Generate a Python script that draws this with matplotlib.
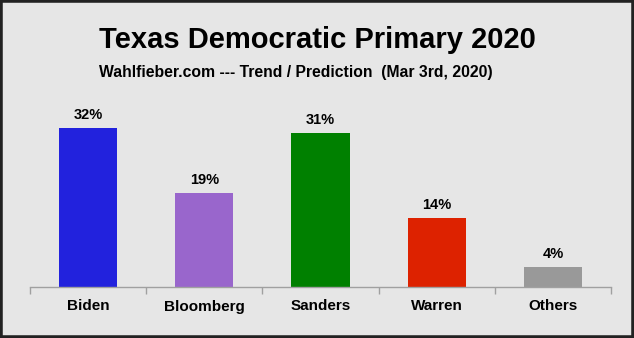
import matplotlib
matplotlib.use("Agg")
import matplotlib.pyplot as plt
from matplotlib.patches import Rectangle

candidates = ["Biden", "Bloomberg", "Sanders", "Warren", "Others"]
shares = [32, 19, 31, 14, 4]
bar_colors = ["#2222dd", "#9966cc", "#008000", "#dd2200", "#999999"]

title = "Texas Democratic Primary 2020"
subtitle = "Wahlfieber.com --- Trend / Prediction  (Mar 3rd, 2020)"

plt.rcParams["font.family"] = ["Liberation Sans", "DejaVu Sans"]
bg = "#e6e6e6"

W, H = 634, 338
fig = plt.figure(figsize=(W / 100, H / 100), dpi=100, facecolor=bg)

# plot area in pixel coordinates: x 30..611, baseline at y=287
left, right, bottom, top = 30, 611, 287, 100
ax = fig.add_axes([left / W, 1 - bottom / H, (right - left) / W, (bottom - top) / H])
ax.set_facecolor(bg)

x = range(len(candidates))
ax.bar(x, shares, width=0.5, color=bar_colors, zorder=2)
for xi, v in zip(x, shares):
    ax.text(xi, v + 1.2, f"{v}%", ha="center", va="bottom",
            fontsize=10.5, fontweight="bold")

ax.set_xlim(-0.5, len(candidates) - 0.5)
ax.set_ylim(0, (bottom - top) / 4.96)
ax.set_yticks([])
for s in ["top", "left", "right"]:
    ax.spines[s].set_visible(False)
ax.spines["bottom"].set_color("#a0a0a0")
ax.spines["bottom"].set_linewidth(1.0)

# category labels centred, ticks between categories
ax.set_xticks(list(x))
ax.set_xticklabels(candidates, fontsize=11, fontweight="bold")
ax.tick_params(axis="x", length=0, pad=9)
ax.set_xticks([i - 0.5 for i in range(len(candidates) + 1)], minor=True)
ax.tick_params(axis="x", which="minor", length=5, color="#a0a0a0", width=1.0)

fig.text(0.5, 1 - 40 / H, title, ha="center", va="center",
         fontsize=21, fontweight="bold")
fig.text(295.5 / W, 1 - 73 / H, subtitle, ha="center", va="center",
         fontsize=11.3, fontweight="bold")

# dark frame around the whole image
fig.patches.append(Rectangle((0, 0), 1, 1, transform=fig.transFigure,
                             fill=False, edgecolor="#222222", linewidth=4))

fig.savefig("out.png", dpi=100, facecolor=bg)
